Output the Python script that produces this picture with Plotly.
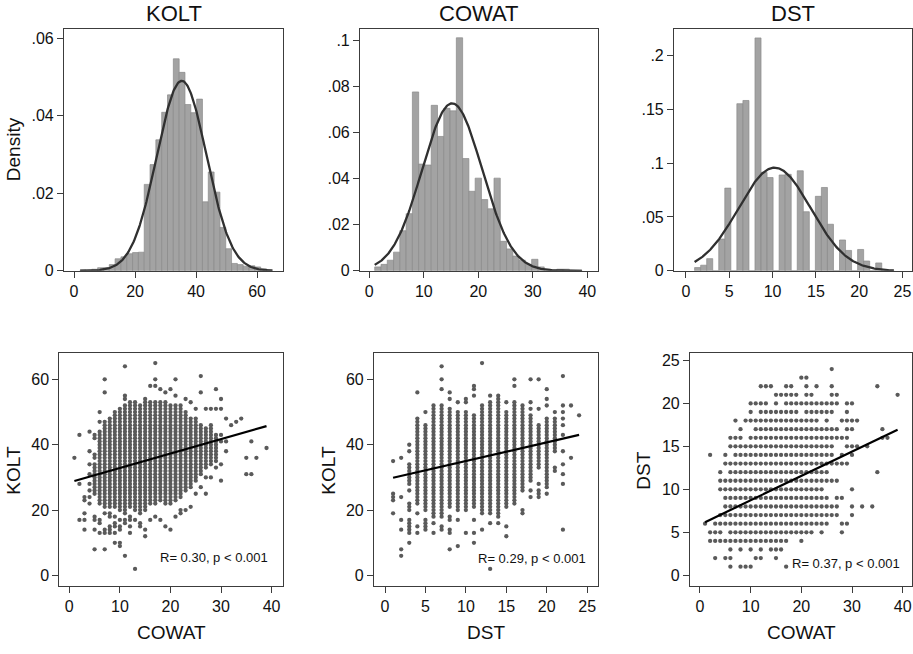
import numpy as np
import plotly.graph_objects as go

W, H = 913, 654

# ---------------- Histogram data (density per bin) ----------------
kolt_bins = [2, 65, 33]          # start, end, number of bins
kolt_density = [0.0002, 0.0, 0.0004, 0.0008, 0.0008, 0.0016, 0.0031, 0.0036, 0.0044, 0.0047,
                0.0048, 0.0223, 0.0274, 0.0338, 0.0409, 0.0454, 0.0547, 0.0512, 0.0429, 0.0408,
                0.0443, 0.0178, 0.0255, 0.0203, 0.0112, 0.0057, 0.0019, 0.0016, 0.0012, 0.0013,
                0.0010, 0.0005, 0.0003]
cowat_bins = [1, 39, 33]
cowat_density = [0.0017, 0.0028, 0.0046, 0.0081, 0.0174, 0.0248, 0.0776, 0.0463, 0.0459, 0.0718,
                 0.0583, 0.0705, 0.0694, 0.1011, 0.0487, 0.0345, 0.0402, 0.0309, 0.0269, 0.0402,
                 0.0128, 0.0095, 0.0064, 0.0046, 0.0028, 0.0050, 0.0017, 0.0007, 0.0003, 0.0007,
                 0.0007, 0.0003, 0.0003]
dst_bins = [1, 24, 33]
dst_density = [0.0030, 0.0052, 0.0113, 0.0, 0.0295, 0.0767, 0.0, 0.1550, 0.1580, 0.0, 0.2160,
               0.0913, 0.0865, 0.0, 0.0889, 0.0895, 0.0, 0.0928, 0.0548, 0.0, 0.0691, 0.0773,
               0.0432, 0.0, 0.0286, 0.0189, 0.0, 0.0198, 0.0091, 0.0, 0.0073, 0.0010, 0.0005]

# normal overlay parameters (mean, sd)
kolt_norm = [35.3, 8.14]
cowat_norm = [15.2, 5.49]
dst_norm = [10.23, 4.17]

# ---------------- Scatter: KOLT (y) vs COWAT (x) ----------------
d_col_x = [5, 6, 7, 8, 9, 10, 11, 12, 13, 14, 15, 16, 17, 18, 19, 20, 21, 22, 23, 24, 25, 26, 27, 28, 29]
d_col_lo = [25, 22, 21, 21, 21, 20, 19, 21, 20, 19, 20, 22, 22, 23, 22, 22, 23, 24, 26, 27, 29, 31, 33, 34, 35]
d_col_hi = [34, 44, 47, 48, 50, 51, 52, 53, 53, 52, 53, 53, 53, 53, 53, 52, 52, 52, 50, 48, 48, 46, 45, 46, 43]
d_out_x = [1, 2, 2, 2, 3, 3, 3, 3, 3, 4, 4, 4, 4, 4, 4, 4, 4, 5, 5, 5, 5, 5, 5, 5, 5, 6, 6, 6, 6, 6,
           7, 7, 7, 7, 7, 7, 8, 8, 8, 8, 8, 9, 9, 9, 9, 9, 10, 10, 10, 10, 10, 11, 11, 11, 11, 11, 11,
           12, 12, 12, 12, 13, 13, 14, 14, 15, 15, 15, 16, 16, 17, 17, 17, 17, 18, 18, 19, 19, 20, 20,
           21, 21, 21, 22, 22, 23, 23, 24, 24, 25, 25, 26, 26, 26, 27, 27, 27, 28, 28, 29, 29, 29,
           30, 30, 30, 30, 30, 30, 31, 31, 31, 32, 33, 34, 35, 35, 36, 36, 37, 39]
d_out_y = [36, 43, 28, 17, 24, 23, 19, 17, 14, 44, 38, 34, 31, 28, 26, 24, 22, 43, 42, 37, 36, 18, 17, 14, 8, 50, 47, 17, 16, 13,
           60, 56, 19, 14, 13, 8, 19, 18, 15, 14, 13, 18, 16, 15, 13, 10, 17, 15, 14, 10, 9, 64, 55, 54, 17, 16, 6,
           18, 17, 15, 13, 2, 17, 16, 15, 14, 12, 54, 58, 17, 65, 60, 58, 18, 57, 17, 56, 15, 57, 14,
           60, 55, 18, 20, 19, 54, 20, 53, 21, 51, 25, 61, 56, 27, 51, 30, 25, 51, 30, 57, 51, 33,
           54, 51, 43, 41, 34, 29, 48, 41, 38, 46, 47, 48, 36, 31, 41, 31, 36, 39]
d_fit = [1, 39, 28.9, 0.442]     # x from, x to, value at x=1, slope

# ---------------- Scatter: KOLT (y) vs DST (x) ----------------
e_col_x = [3, 4, 5, 6, 7, 8, 9, 10, 11, 12, 13, 14, 15, 16, 17, 18, 19, 20, 21]
e_col_lo = [28, 22, 21, 18, 18, 21, 20, 20, 21, 19, 19, 19, 21, 22, 26, 29, 33, 27, 38]
e_col_hi = [34, 48, 46, 52, 52, 51, 50, 50, 49, 51, 53, 54, 50, 53, 52, 49, 46, 48, 48]
e_out_x = [1, 1, 1, 1, 1, 2, 2, 2, 2, 2, 2, 3, 3, 3, 3, 3, 3, 3, 3, 3, 3, 3, 3, 4, 4, 4, 4,
           5, 5, 5, 5, 5, 5, 6, 6, 7, 7, 7, 7, 7, 8, 8, 8, 8, 8, 8, 8, 9, 9, 9, 10, 10, 10,
           11, 11, 11, 11, 11, 11, 12, 12, 12, 13, 13, 13, 14, 14, 14, 15, 15, 15, 16, 16,
           17, 17, 18, 18, 18, 18, 18, 19, 19, 19, 19, 19, 19, 20, 20, 20, 20, 21, 21, 21,
           22, 22, 22, 22, 22, 22, 22, 22, 22, 22, 22, 23, 23, 24]
e_out_y = [35, 25, 24, 23, 19, 36, 24, 17, 14, 8, 6, 40, 38, 26, 22, 21, 20, 17, 16, 15, 14, 13, 10, 56, 19, 15, 13,
           50, 20, 17, 16, 15, 14, 16, 13, 64, 60, 57, 15, 14, 56, 54, 18, 17, 14, 13, 8, 53, 17, 9, 54, 53, 13,
           58, 57, 55, 17, 13, 10, 65, 52, 14, 55, 16, 2, 55, 18, 16, 53, 15, 12, 60, 58,
           20, 19, 60, 53, 51, 26, 24, 60, 51, 28, 26, 25, 24, 57, 54, 52, 25, 50, 33, 32,
           61, 52, 50, 48, 46, 43, 38, 34, 31, 28, 14, 52, 36, 49]
e_fit = [1, 24, 29.9, 0.57]

# ---------------- Scatter: DST (y) vs COWAT (x) ----------------
f_row_y = [4, 5, 6, 7, 8, 9, 10, 11, 12, 13, 14, 15, 16, 17, 18, 19, 19, 20, 20, 21, 22]
f_row_lo = [2, 6, 3, 4, 5, 5, 4, 4, 6, 5, 7, 6, 10, 11, 11, 12, 21, 10, 17, 15, 12]
f_row_hi = [17, 21, 25, 27, 27, 25, 24, 25, 25, 27, 26, 26, 29, 27, 23, 19, 26, 13, 26, 19, 14]
f_out_x = [6, 8, 9, 10, 17, 3, 5, 6, 11, 12, 15, 6, 8, 10, 12, 14, 15, 16, 20, 2, 3, 4, 22, 24, 28,
           1, 28, 29, 30, 30, 32, 34, 27, 28, 30, 26, 27, 4, 35, 28, 29, 2, 5, 28, 30, 29, 30, 31, 33,
           6, 7, 8, 36, 37, 8, 29, 30, 36, 7, 9, 10, 25, 28, 29, 30, 31, 10, 29, 15, 27, 29, 30,
           21, 22, 26, 27, 39, 17, 18, 21, 23, 26, 35, 20, 21, 26]
f_out_y = [1, 1, 1, 1, 1, 2, 2, 2, 2, 2, 2, 3, 3, 3, 3, 3, 3, 3, 4, 5, 5, 5, 5, 5, 5,
           6, 6, 6, 7, 8, 8, 8, 9, 9, 10, 11, 11, 12, 12, 13, 13, 14, 14, 14, 14, 15, 15, 15, 15,
           16, 16, 16, 16, 16, 17, 17, 17, 17, 18, 18, 18, 18, 18, 18, 18, 18, 19, 19, 20, 20, 20, 20,
           21, 21, 21, 21, 21, 22, 22, 22, 22, 22, 22, 23, 23, 24]
f_fit = [1, 39, 6.18, 0.283]

stat_text = ["R= 0.30, p < 0.001", "R= 0.29, p < 0.001", "R= 0.37, p < 0.001"]
hist_titles = ["KOLT", "COWAT", "DST"]

# ---------------- helpers ----------------
FONT = "Liberation Sans, Arial, Helvetica, sans-serif"
BAR_FILL = "#a3a3a3"
BAR_LINE = "#8a8a8a"
CURVE = "#303030"
DOT = "#5a5a5a"


def px_x(p):
    return p / W


def px_y(p):
    return 1 - p / H


def expand_cols(cx, lo, hi, ox, oy):
    xs, ys = [], []
    for x, a, b in zip(cx, lo, hi):
        for y in range(a, b + 1):
            xs.append(x)
            ys.append(y)
    return xs + list(ox), ys + list(oy)


def expand_rows(ry, lo, hi, ox, oy):
    xs, ys = [], []
    for y, a, b in zip(ry, lo, hi):
        for x in range(a, b + 1):
            xs.append(x)
            ys.append(y)
    return xs + list(ox), ys + list(oy)


fig = go.Figure()

hists = [(kolt_bins, kolt_density, kolt_norm), (cowat_bins, cowat_density, cowat_norm),
         (dst_bins, dst_density, dst_norm)]
for i, (bins, dens, nrm) in enumerate(hists):
    start, end, n = bins
    w = (end - start) / n
    centers = [start + w * (k + 0.5) for k in range(n)]
    ax = "" if i == 0 else str(i + 1)
    fig.add_trace(go.Bar(x=centers, y=dens, width=[w] * n, xaxis="x" + ax, yaxis="y" + ax,
                         marker=dict(color=BAR_FILL, line=dict(color=BAR_LINE, width=0.7)),
                         showlegend=False, hoverinfo="skip"))
    xs = np.linspace(start, end, 300)
    mu, sd = nrm
    ys = np.exp(-0.5 * ((xs - mu) / sd) ** 2) / (sd * np.sqrt(2 * np.pi))
    fig.add_trace(go.Scatter(x=xs, y=ys, mode="lines", xaxis="x" + ax, yaxis="y" + ax,
                             line=dict(color=CURVE, width=2.3), showlegend=False, hoverinfo="skip"))

scatters = [
    (expand_cols(d_col_x, d_col_lo, d_col_hi, d_out_x, d_out_y), d_fit),
    (expand_cols(e_col_x, e_col_lo, e_col_hi, e_out_x, e_out_y), e_fit),
    (expand_rows(f_row_y, f_row_lo, f_row_hi, f_out_x, f_out_y), f_fit),
]
for j, ((sx, sy), fit) in enumerate(scatters):
    ax = str(j + 4)
    fig.add_trace(go.Scatter(x=sx, y=sy, mode="markers", xaxis="x" + ax, yaxis="y" + ax,
                             marker=dict(color=DOT, size=4.3, line=dict(width=0)),
                             showlegend=False, hoverinfo="skip"))
    x0, x1, y0, b = fit
    fig.add_trace(go.Scatter(x=[x0, x1], y=[y0, y0 + b * (x1 - x0)], mode="lines",
                             xaxis="x" + ax, yaxis="y" + ax,
                             line=dict(color="black", width=2.2), showlegend=False, hoverinfo="skip"))

# panel geometry (pixels): left, right, top, bottom
panels = [
    (64, 283, 28, 274), (360, 597.7, 28, 274), (674, 911.5, 28, 274),
    (59.3, 282.7, 357.7, 594), (374, 597.7, 357.7, 594), (690, 912.3, 357.7, 594),
]
xranges = [[-3.3, 68.5], [-1.7, 41.9], [-1.38, 26.04], [-1.98, 42.2], [-1.36, 26.3], [-1.97, 41.9]]
yranges = [[0, 0.0625], [0, 0.1051], [0, 0.2247], [-3.2, 68.0], [-3.2, 68.0], [-1.24, 25.84]]
xticks = [[0, 20, 40, 60], [0, 10, 20, 30, 40], [0, 5, 10, 15, 20, 25],
          [0, 10, 20, 30, 40], [0, 5, 10, 15, 20, 25], [0, 10, 20, 30, 40]]
yticks = [([0, .02, .04, .06], ["0", ".02", ".04", ".06"]),
          ([0, .02, .04, .06, .08, .1], ["0", ".02", ".04", ".06", ".08", ".1"]),
          ([0, .05, .1, .15, .2], ["0", ".05", ".1", ".15", ".2"]),
          ([0, 20, 40, 60], ["0", "20", "40", "60"]),
          ([0, 20, 40, 60], ["0", "20", "40", "60"]),
          ([0, 5, 10, 15, 20, 25], ["0", "5", "10", "15", "20", "25"])]

axis_common = dict(showline=True, mirror=True, linecolor="#3c3c3c", linewidth=1.1,
                   ticks="outside", ticklen=6, tickwidth=1, tickcolor="#3c3c3c",
                   showgrid=False, zeroline=False, fixedrange=True,
                   tickfont=dict(family=FONT, size=16, color="#111111"))

layout = dict(width=W, height=H, margin=dict(l=0, r=0, t=0, b=0),
              paper_bgcolor="white", plot_bgcolor="white", barmode="overlay",
              font=dict(family=FONT, color="#111111"))
for i, (l, r, t, b) in enumerate(panels):
    ax = "" if i == 0 else str(i + 1)
    layout["xaxis" + ax] = dict(axis_common, domain=[px_x(l), px_x(r)], range=xranges[i],
                                tickvals=xticks[i], anchor="y" + ax)
    layout["yaxis" + ax] = dict(axis_common, domain=[px_y(b), px_y(t)], range=yranges[i],
                                tickvals=yticks[i][0], ticktext=yticks[i][1], anchor="x" + ax)

fig.update_layout(**layout)

ann = []
# histogram titles
for i, t in enumerate(hist_titles):
    l, r, tp, bt = panels[i]
    ann.append(dict(text=t, x=px_x((l + r) / 2), y=px_y(13), xref="paper", yref="paper",
                    showarrow=False, font=dict(size=22, family=FONT, color="#111111"),
                    xanchor="center", yanchor="middle"))
# axis titles
ytitles = [("Density", 13.5, 151), ("KOLT", 14, 477), ("KOLT", 329, 477), ("DST", 644, 477)]
for txt, xp, yp in ytitles:
    ann.append(dict(text=txt, x=px_x(xp), y=px_y(yp), xref="paper", yref="paper", textangle=-90,
                    showarrow=False, font=dict(size=19, family=FONT, color="#111111"),
                    xanchor="center", yanchor="middle"))
xtitles = [("COWAT", 171, 641), ("DST", 486, 641), ("COWAT", 801, 641)]
for txt, xp, yp in xtitles:
    ann.append(dict(text=txt, x=px_x(xp), y=px_y(yp), xref="paper", yref="paper",
                    showarrow=False, font=dict(size=19, family=FONT, color="#111111"),
                    xanchor="center", yanchor="middle"))
# statistics
for txt, xr, yc in zip(stat_text, [270, 588, 902], [565, 566, 571]):
    ann.append(dict(text=txt, x=px_x(xr), y=px_y(yc), xref="paper", yref="paper",
                    showarrow=False, font=dict(size=13, family=FONT, color="#111111"),
                    xanchor="right", yanchor="middle"))
fig.update_layout(annotations=ann)

fig.write_html("out.html")
